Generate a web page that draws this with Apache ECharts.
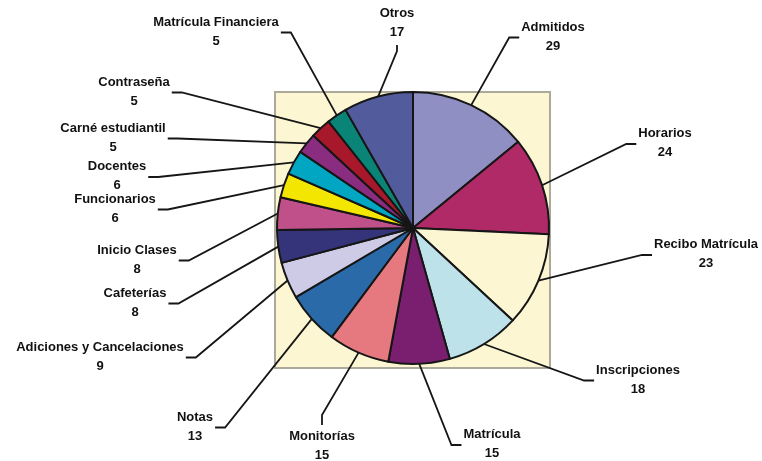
<!DOCTYPE html>
<html>
<head>
<meta charset="utf-8">
<script src="https://cdn.jsdelivr.net/npm/echarts@6/dist/echarts.min.js"></script>
<style>
  html, body { margin: 0; padding: 0; background: #ffffff; }
  #chart { width: 762px; height: 461px; }
</style>
</head>
<body>
<div id="chart"></div>
<script>
// ---- data ----
const categories = [
  'Admitidos', 'Horarios', 'Recibo Matrícula', 'Inscripciones', 'Matrícula',
  'Monitorías', 'Notas', 'Adiciones y Cancelaciones', 'Cafeterías', 'Inicio Clases',
  'Funcionarios', 'Docentes', 'Carné estudiantil', 'Contraseña', 'Matrícula Financiera', 'Otros'
];
const values = [29, 24, 23, 18, 15, 15, 13, 9, 8, 8, 6, 6, 5, 5, 5, 17];

// ---- styles / layout ----
const colors = [
  '#8f8fc3', '#b02a68', '#fcf7d2', '#bde2ea', '#7a1f70',
  '#e67880', '#2a6aa8', '#cdcbe6', '#35347a', '#c0508a',
  '#f3e600', '#00a6c2', '#8a2d80', '#a6182a', '#0b8478', '#525b9c'
];
// label block centres (name + value)
const labelPos = [
  [553, 36.5], [665, 143], [706, 254], [638, 379.5], [492, 444],
  [322, 446], [195, 426.5], [100, 356.5], [135, 302.5], [137, 259.5],
  [115, 208.5], [117, 176], [113, 137.5], [134, 91.5], [216, 31.5], [397, 23]
];
// which side of the label the leader line attaches to
const leaderSide = ['l','l','l','l','l','t','r','r','r','r','r','r','r','r','r','b'];

const CX = 413, CY = 228, R = 136;
const total = values.reduce((a, b) => a + b, 0);
const cum = [];
values.reduce((acc, v, i) => { cum[i] = acc; return acc + v; }, 0);

const chart = echarts.init(document.getElementById('chart'), null, { renderer: 'canvas' });

chart.setOption({
  animation: false,
  backgroundColor: '#ffffff',
  graphic: [{
    type: 'rect',
    z: -1,
    shape: { x: 275, y: 92, width: 275, height: 276 },
    style: { fill: '#fcf7d2', stroke: '#aca99a', lineWidth: 2 }
  }],
  series: [{
    type: 'pie',
    center: [CX, CY],
    radius: R,
    startAngle: 90,
    clockwise: true,
    avoidLabelOverlap: false,
    minShowLabelAngle: 0,
    emphasis: { disabled: true },
    itemStyle: { borderColor: '#161616', borderWidth: 2 },
    label: {
      show: true,
      position: 'outside',
      formatter: '{b}\n{c}',
      color: '#111111',
      fontFamily: 'Liberation Sans, Arial, sans-serif',
      fontWeight: 'bold',
      fontSize: 13,
      lineHeight: 19,
      align: 'center'
    },
    labelLine: {
      show: true,
      length: 10,
      length2: 10,
      lineStyle: { color: '#161616', width: 1.8 }
    },
    labelLayout: function (p) {
      const i = p.dataIndex;
      const x = labelPos[i][0], y = labelPos[i][1];
      const w = p.labelRect.width, h = p.labelRect.height;
      const mid = (90 - 360 * (cum[i] + values[i] / 2) / total) * Math.PI / 180;
      const edge = [CX + R * Math.cos(mid), CY - R * Math.sin(mid)];
      let end, bend;
      const s = leaderSide[i];
      if (s === 'l') { end = [x - w / 2 - 2, y + 1]; bend = [end[0] - 10, end[1]]; }
      else if (s === 'r') { end = [x + w / 2 + 2, y + 1]; bend = [end[0] + 10, end[1]]; }
      else if (s === 't') { end = [x, y - h / 2 - 2]; bend = [x, end[1] - 10]; }
      else { end = [x, y + h / 2 + 3]; bend = [x, end[1] + 6]; }
      return {
        x: x, y: y,
        align: 'center', verticalAlign: 'middle',
        labelLinePoints: [edge, bend, end]
      };
    },
    data: categories.map((name, i) => ({
      name: name,
      value: values[i],
      itemStyle: { color: colors[i] }
    }))
  }]
});
</script>
</body>
</html>
